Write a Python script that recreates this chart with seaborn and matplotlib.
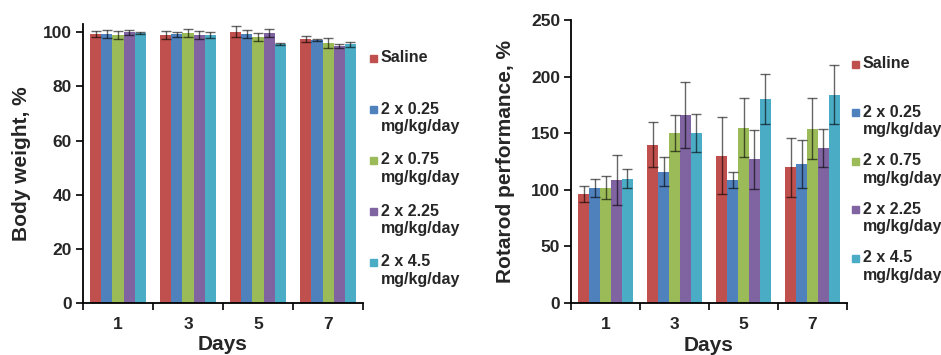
import numpy as np
import pandas as pd
import matplotlib
matplotlib.use('Agg')
import matplotlib.pyplot as plt
import seaborn as sns

# Datos
dias = ['1', '3', '5', '7']
grupos = ['Saline', '2 x 0.25\nmg/kg/day', '2 x 0.75\nmg/kg/day',
          '2 x 2.25\nmg/kg/day', '2 x 4.5\nmg/kg/day']
colores = ['#C0504D', '#4F81BD', '#9BBB59', '#8064A2', '#4BACC6']

# Peso corporal, % (una lista por grupo, valores por día)
peso_saline = [99.3, 99.0, 100.2, 97.5]
peso_025 = [99.2, 99.2, 99.2, 97.2]
peso_075 = [99.0, 99.6, 98.2, 96.0]
peso_225 = [100.0, 99.0, 99.7, 95.0]
peso_45 = [99.7, 99.0, 95.7, 95.5]
peso_err_saline = [1.0, 1.5, 2.0, 1.2]
peso_err_025 = [1.5, 1.0, 1.5, 0.4]
peso_err_075 = [1.5, 1.5, 1.5, 1.8]
peso_err_225 = [1.0, 1.5, 1.5, 0.8]
peso_err_45 = [0.4, 1.0, 0.3, 1.0]

# Rotarod, %
rot_saline = [96, 140, 130, 120]
rot_025 = [102, 116, 109, 123]
rot_075 = [102, 150, 155, 154]
rot_225 = [109, 166, 127, 137]
rot_45 = [110, 150, 180, 184]
rot_err_saline = [7, 20, 34, 26]
rot_err_025 = [8, 13, 7, 21]
rot_err_075 = [10, 16, 26, 27]
rot_err_225 = [22, 29, 26, 17]
rot_err_45 = [8, 17, 22, 26]

sns.set_style('white')
plt.rcParams['font.family'] = ['Liberation Sans', 'DejaVu Sans']
plt.rcParams['font.weight'] = 'bold'
plt.rcParams['axes.labelweight'] = 'bold'


def tabla(series):
    filas = []
    for g, vals in zip(grupos, series):
        for d, v in zip(dias, vals):
            filas.append({'dia': d, 'grupo': g, 'valor': v})
    return pd.DataFrame(filas)


def panel(ax, series, errores, ylim, yticks, ylabel, label_x):
    df = tabla(series)
    sns.barplot(data=df, x='dia', y='valor', hue='grupo', order=dias,
                hue_order=grupos, palette=colores, saturation=1,
                width=0.79, errorbar=None, legend=False, linewidth=0,
                ax=ax)
    # barras de error
    for cont, errs in zip(ax.containers, errores):
        xs = [b.get_x() + b.get_width() / 2 for b in cont]
        hs = [b.get_height() for b in cont]
        ax.errorbar(xs, hs, yerr=errs, fmt='none', ecolor=(0, 0, 0, 0.6),
                    elinewidth=1, capsize=3.5, capthick=1)
    ax.set_xlim(-0.5, 3.5)
    ax.set_ylim(*ylim)
    ax.set_yticks(yticks)
    ax.set_xticks([-0.5, 0.5, 1.5, 2.5, 3.5])
    ax.set_xticklabels([])
    ax.set_xticks(range(len(dias)), labels=dias, minor=True)
    ax.tick_params(axis='x', which='major', direction='out', length=5,
                   width=1.2, bottom=True, color='black')
    ax.tick_params(axis='x', which='minor', length=0, pad=10, labelsize=12.5)
    ax.tick_params(axis='y', direction='out', length=5, width=1.2, left=True,
                   pad=3, labelsize=12.5, color='black')
    for s in ['top', 'right']:
        ax.spines[s].set_visible(False)
    for s in ['left', 'bottom']:
        ax.spines[s].set_color('black')
        ax.spines[s].set_linewidth(1.3)
    ax.set_ylabel(ylabel, fontsize=15)
    ax.set_xlabel('Days', fontsize=15)
    ax.yaxis.set_label_coords(label_x, 0.5)
    ax.xaxis.set_label_coords(0.5, -0.115)


def leyenda(fig, x_cuadro, x_texto, y0, paso):
    W, H = 941, 355
    for i, (g, c) in enumerate(zip(grupos, colores)):
        yc = y0 + i * paso
        fig.patches.append(plt.Rectangle((x_cuadro / W, (H - yc - 3.5) / H),
                                         7 / W, 7 / H, color=c,
                                         transform=fig.transFigure))
        for j, linea in enumerate(g.split('\n')):
            fig.text(x_texto / W, (H - yc - j * 17.5) / H, linea,
                     fontsize=11.5, va='center', ha='left')


fig = plt.figure(figsize=(9.41, 3.55), dpi=100)
ax1 = fig.add_axes([0.0882, 0.1465, 0.2976, 0.7855])
ax2 = fig.add_axes([0.607, 0.1465, 0.293, 0.797])

panel(ax1, [peso_saline, peso_025, peso_075, peso_225, peso_45],
      [peso_err_saline, peso_err_025, peso_err_075, peso_err_225, peso_err_45],
      (0, 103), range(0, 101, 20), 'Body weight, %', -0.185)
panel(ax2, [rot_saline, rot_025, rot_075, rot_225, rot_45],
      [rot_err_saline, rot_err_025, rot_err_075, rot_err_225, rot_err_45],
      (0, 250), range(0, 251, 50), 'Rotarod performance, %', -0.205)

leyenda(fig, 370, 381, 58, 51)
leyenda(fig, 852, 863, 64, 48.5)

fig.savefig('out.png', dpi=100)
